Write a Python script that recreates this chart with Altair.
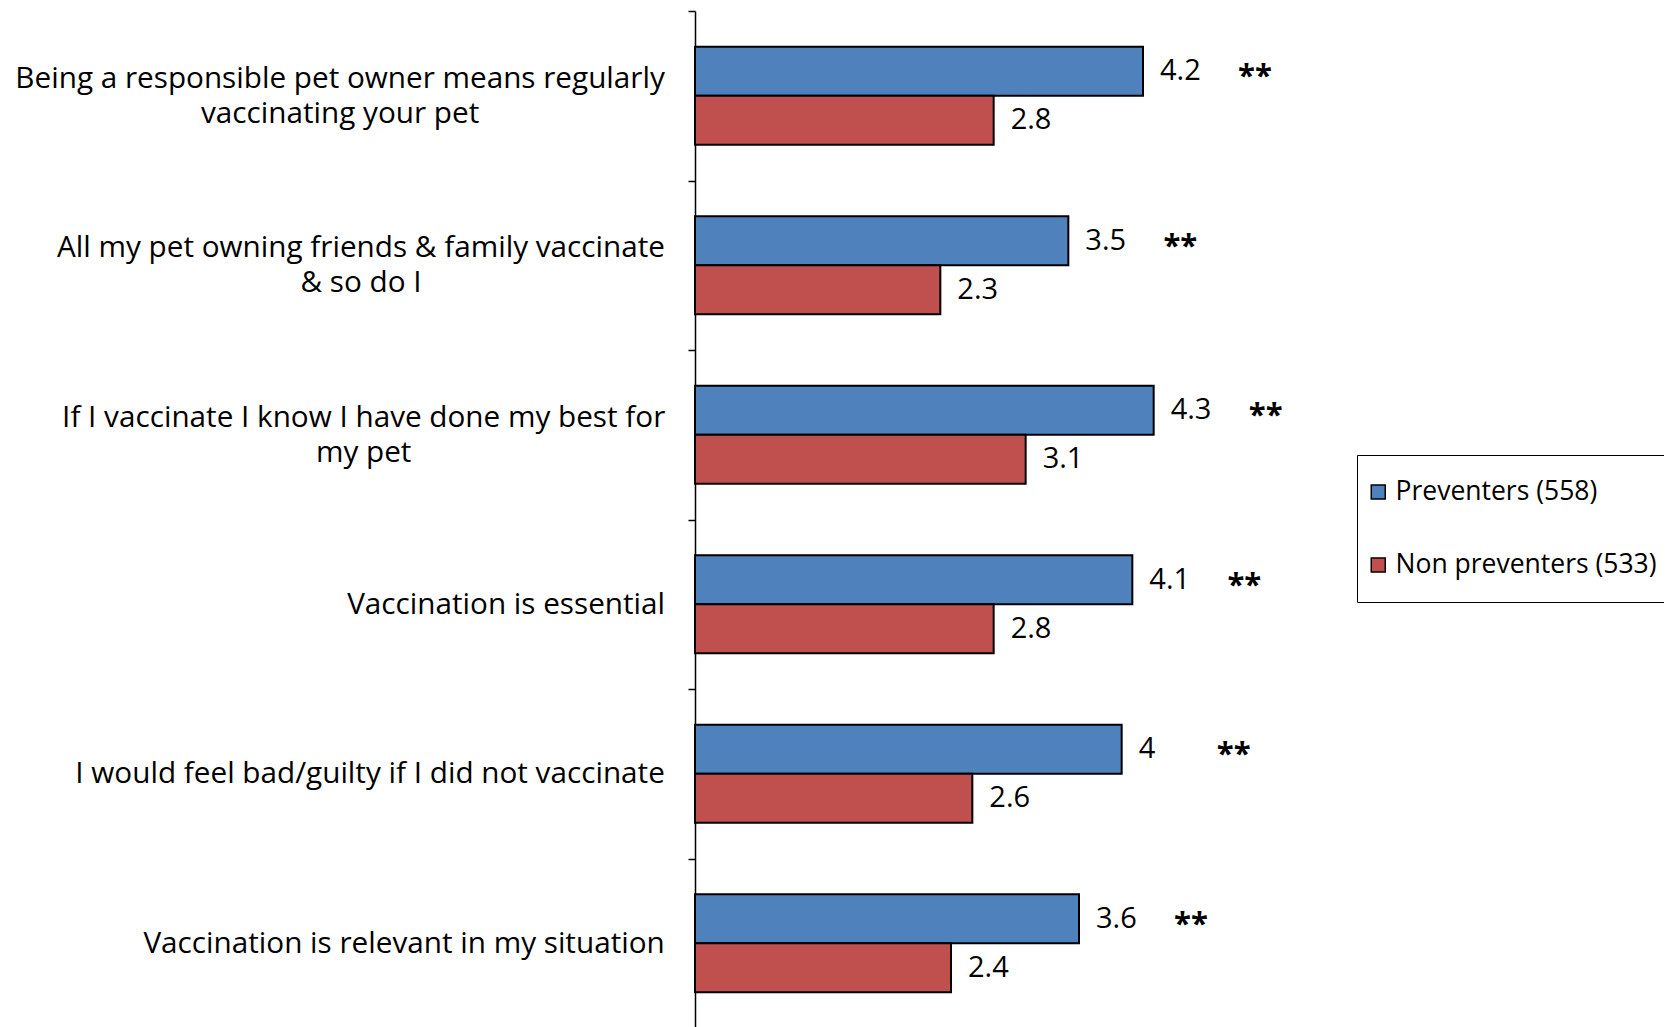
import json
import altair as alt
import pandas as pd

# ---- data ----
categories = [
    "Being a responsible pet owner means regularly\nvaccinating your pet",
    "All my pet owning friends & family vaccinate\n& so do I",
    "If I vaccinate I know I have done my best for\nmy pet",
    "Vaccination is essential",
    "I would feel bad/guilty if I did not vaccinate",
    "Vaccination is relevant in my situation",
]
series = ["Preventers (558)", "Non preventers (533)"]
preventers = [4.2, 3.5, 4.3, 4.1, 4.0, 3.6]
non_preventers = [2.8, 2.3, 3.1, 2.8, 2.6, 2.4]
significance = ["**", "**", "**", "**", "**", "**"]
colors = ["#4F81BD", "#C0504D"]

FONT = "Open Sans"
LABEL_SIZE = 29.7
LINE_H = 35
GAP = 23

# approximate Open Sans advance widths (em): used to centre wrapped label lines
_W = {"a": .556, "b": .613, "c": .48, "d": .613, "e": .561, "f": .336, "g": .546,
      "h": .614, "i": .258, "j": .258, "k": .529, "l": .258, "m": .932, "n": .614,
      "o": .6, "p": .613, "q": .613, "r": .408, "s": .476, "t": .353, "u": .614,
      "v": .5, "w": .77, "x": .519, "y": .5, "z": .468, " ": .26, "&": .71,
      "I": .279, "/": .368, ".": .266, "B": .65, "A": .633, "V": .6}


def _width(s):
    return sum(_W.get(c, .6) for c in s) * LABEL_SIZE


pad_conditions = []
off_conditions = []
for c in categories:
    lines = c.split("\n")
    w = max(_width(l) for l in lines)
    test = f"datum.value === {json.dumps(c)}"
    pad_conditions.append({"test": test, "value": round(GAP + w / 2, 1)})
    if len(lines) > 1:
        off_conditions.append({"test": test, "value": -(len(lines) - 1) * LINE_H / 2})

rows = []
for cat, p, n, sig in zip(categories, preventers, non_preventers, significance):
    rows.append({"category": cat, "series": series[0], "value": p, "text": f"{p:g}", "star": sig})
    rows.append({"category": cat, "series": series[1], "value": n, "text": f"{n:g}", "star": ""})
df = pd.DataFrame(rows)

base = alt.Chart(df).encode(
    y=alt.Y(
        "category:N",
        sort=categories,
        scale=alt.Scale(paddingInner=0, paddingOuter=0),
        axis=alt.Axis(
            title=None,
            domainColor="#000000",
            domainWidth=1.5,
            tickColor="#000000",
            tickWidth=1.5,
            tickSize=7,
            tickBand="extent",
            labelFont=FONT,
            labelFontSize=LABEL_SIZE,
            labelColor="#000000",
            labelPadding={"condition": pad_conditions, "value": GAP},
            labelOffset={"condition": off_conditions, "value": 0},
            labelLimit=0,
            labelLineHeight=LINE_H,
            labelAlign="center",
            labelBaseline="middle",
            labelExpr="split(datum.label, '\\n')",
        ),
    ),
    yOffset=alt.YOffset("series:N", sort=series,
                        scale=alt.Scale(paddingInner=0, paddingOuter=0.73)),
    x=alt.X("value:Q", scale=alt.Scale(domain=[0, 6]), axis=None),
)

bars = base.mark_bar(stroke="#000000", strokeWidth=2).encode(
    color=alt.Color(
        "series:N",
        sort=series,
        scale=alt.Scale(domain=series, range=colors),
        legend=alt.Legend(
            title=None,
            orient="none",
            legendX=662,
            legendY=444,
            strokeColor="#000000",
            fillColor="#ffffff",
            padding=8,
            clipHeight=58,
            rowPadding=15,
            symbolType="square",
            symbolSize=196,
            symbolStrokeColor="#000000",
            symbolStrokeWidth=1.5,
            labelFont=FONT,
            labelFontSize=26.5,
            labelColor="#000000",
            labelOffset=4,
            labelLimit=0,
        ),
    )
)

values = base.mark_text(align="left", baseline="middle", dx=17,
                        font=FONT, fontSize=29, color="#000000").encode(text="text:N")

stars = base.transform_filter(alt.datum.star != "").mark_text(
    align="center", baseline="middle", dx=112, dy=6, font=FONT, fontSize=31,
    fontWeight="bold", color="#000000"
).encode(text="star:N")

chart = (
    alt.layer(bars, values, stars)
    .properties(
        width=640,
        height=1017,
        autosize=alt.AutoSizeParams(type="none"),
        padding={"left": 687, "top": 3, "right": 329, "bottom": 0},
        background="#ffffff",
    )
    .configure_view(stroke=None)
)

chart.save("out.html", embed_options={"renderer": "svg", "actions": False})
